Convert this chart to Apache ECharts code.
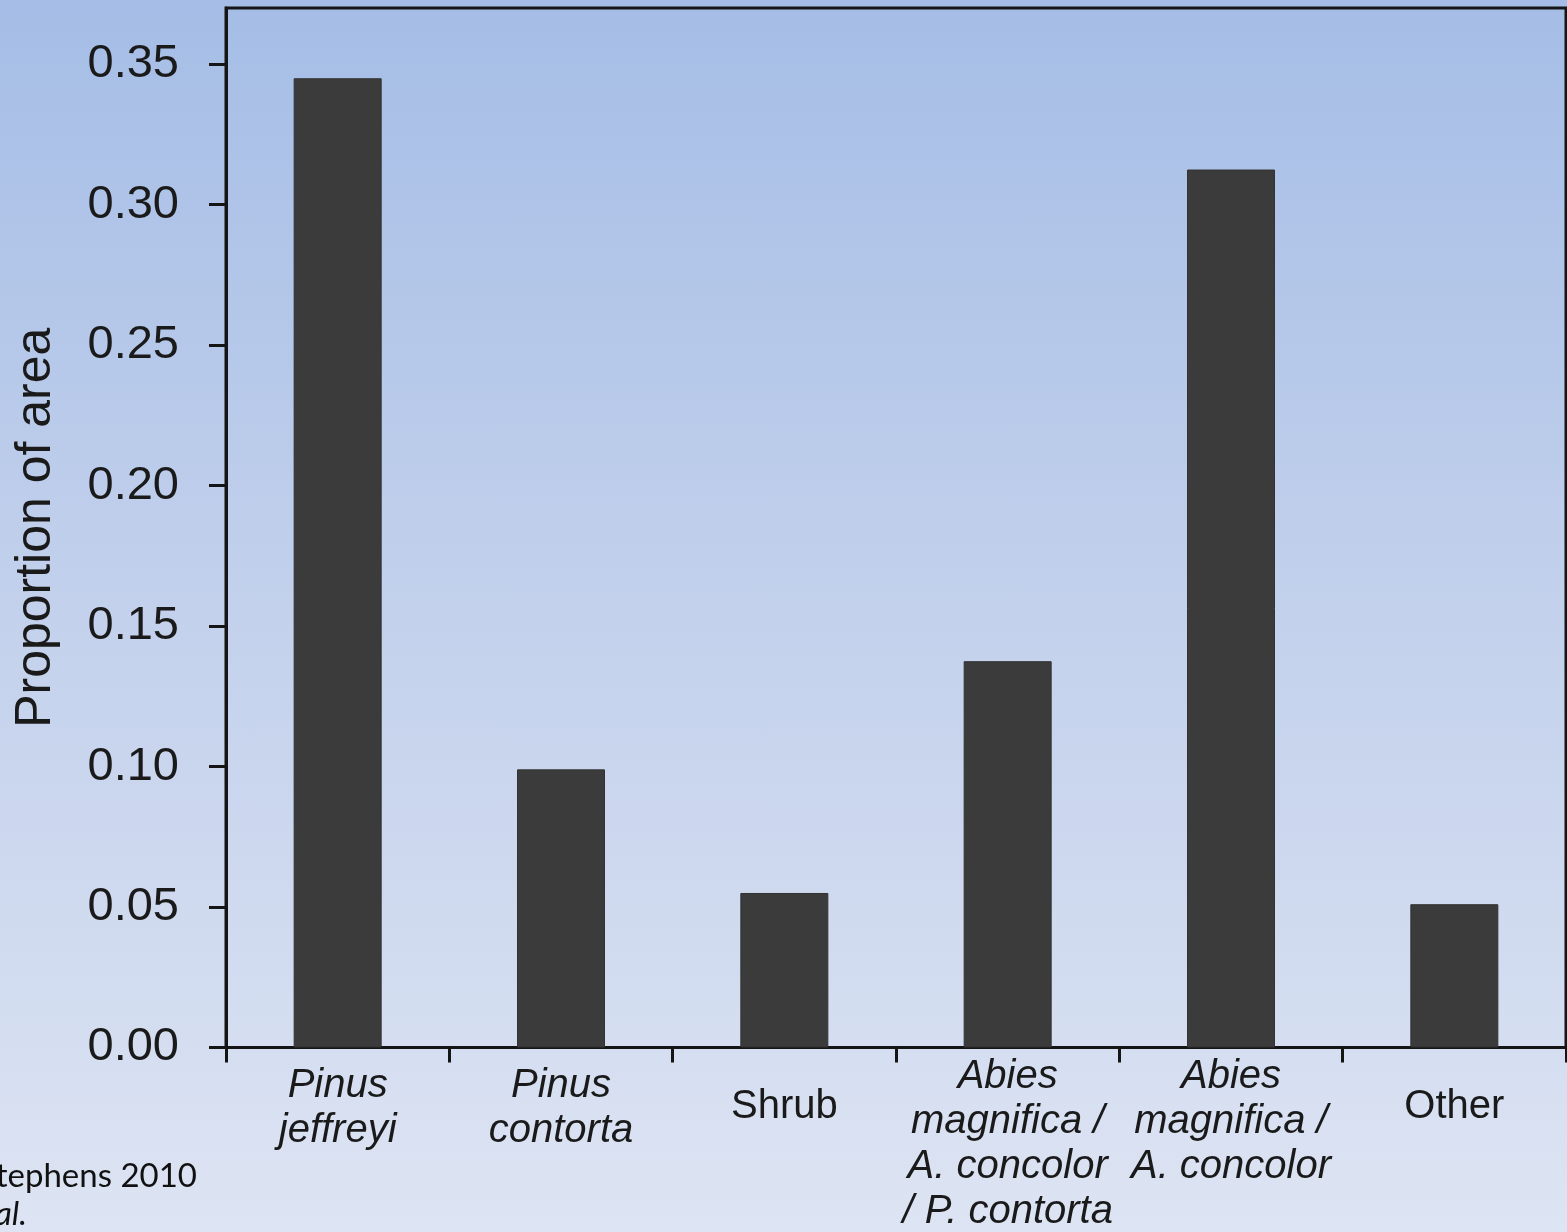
<!DOCTYPE html>
<html>
<head>
<meta charset="utf-8">
<script src="https://cdn.jsdelivr.net/npm/echarts@6/dist/echarts.min.js"></script>
<style>
  html, body { margin: 0; padding: 0; }
  body { width: 1567px; height: 1232px; overflow: hidden;
         background: linear-gradient(to bottom, #a5bde6 0%, #c3d1ec 50%, #dde4f3 100%); }
  #chart { width: 1567px; height: 1232px; }
</style>
</head>
<body>
<div id="chart"></div>
<script>
// ---- data ----
const categories = [
  ['Pinus', 'jeffreyi'],
  ['Pinus', 'contorta'],
  ['Shrub'],
  ['Abies', 'magnifica /', 'A. concolor', '/ P. contorta'],
  ['Abies', 'magnifica /', 'A. concolor'],
  ['Other']
];
const italicLabel = [true, true, false, true, true, false];
const proportions = [0.345, 0.099, 0.055, 0.1375, 0.3125, 0.051];
const yTicks = [0, 0.05, 0.10, 0.15, 0.20, 0.25, 0.30, 0.35];
const yAxisTitle = 'Proportion of area';
const citation = ['Stephens 2010', 'et al.'];

const catKeys = categories.map(c => c.join('\n'));
const padFor = [9, 9, 30, 0, 0, 30];
const FONT = '"Liberation Sans", Arial, sans-serif';

const chart = echarts.init(document.getElementById('chart'), null, { renderer: 'canvas' });
chart.setOption({
  backgroundColor: 'transparent',
  animation: false,
  grid: {
    left: 226, right: 1, top: 8, bottom: 183,
    show: true, borderColor: '#151515', borderWidth: 3, backgroundColor: 'transparent'
  },
  xAxis: {
    type: 'category',
    data: catKeys,
    boundaryGap: true,
    axisLine: { show: true, lineStyle: { color: '#151515', width: 3 } },
    axisTick: { show: true, length: 15, lineStyle: { color: '#151515', width: 3 } },
    axisLabel: {
      interval: 0,
      margin: 7,
      verticalAlign: 'top',
      formatter: function (value, idx) {
        const lines = categories[idx];
        const st = italicLabel[idx] ? 'it' : 'nm';
        let s = padFor[idx] > 0 ? '{p' + padFor[idx] + '| }\n' : '';
        s += lines.map(l => '{' + st + '|' + l + '}').join('\n');
        return s;
      },
      rich: {
        it: { fontFamily: FONT, fontStyle: 'italic', fontSize: 40, lineHeight: 45, color: '#1a1a1a', align: 'center' },
        nm: { fontFamily: FONT, fontSize: 40, lineHeight: 45, color: '#1a1a1a', align: 'center' },
        p9: { fontSize: 1, lineHeight: 9, height: 9 },
        p30: { fontSize: 1, lineHeight: 30, height: 30 }
      }
    },
    splitLine: { show: false }
  },
  yAxis: {
    type: 'value',
    min: 0, max: 0.37, interval: 0.05,
    name: yAxisTitle,
    nameLocation: 'middle',
    nameGap: 165,
    nameTextStyle: { fontFamily: FONT, fontSize: 50, color: '#1a1a1a' },
    axisLine: { show: true, lineStyle: { color: '#151515', width: 3 } },
    axisTick: { show: true, length: 17, lineStyle: { color: '#151515', width: 3 }, customValues: yTicks },
    axisLabel: {
      margin: 47,
      fontFamily: FONT, fontSize: 47, color: '#1a1a1a',
      customValues: yTicks,
      formatter: v => v.toFixed(2)
    },
    splitLine: { show: false }
  },
  series: [{
    type: 'bar',
    data: proportions,
    barWidth: 88,
    itemStyle: { color: '#3b3b3b', borderColor: '#333', borderWidth: 1 }
  }],
  graphic: [
    { type: 'text', x: 197, y: 1193,
      style: { text: citation[0], font: '33px Lato, "Open Sans", sans-serif', fill: '#111', textAlign: 'right', textVerticalAlign: 'bottom' } },
    { type: 'text', x: 27, y: 1231,
      style: { text: citation[1], font: 'italic 33px Lato, "Open Sans", sans-serif', fill: '#111', textAlign: 'right', textVerticalAlign: 'bottom' } }
  ]
});
</script>
</body>
</html>
